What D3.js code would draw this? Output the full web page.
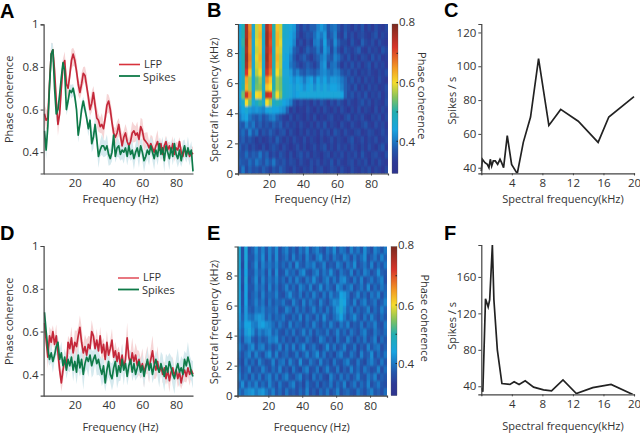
<!DOCTYPE html>
<html><head><meta charset="utf-8">
<script src="https://cdnjs.cloudflare.com/ajax/libs/d3/7.8.5/d3.min.js"></script>
<style>
html,body{margin:0;padding:0;background:#fff}
svg{display:block}
text{font-family:"Open Sans",sans-serif;fill:#333}
.letter{font-family:"Liberation Sans",sans-serif;font-weight:700;font-size:20px;fill:#000}
</style></head><body><svg id="c" width="640" height="433"></svg>
<script>
// Values are in hundredths of phase coherence; one value per Hz from 2 to 90 Hz
const lineFreqs = d3.range(2, 91);
const lfpA = [58,55,56,72,86,88,78,64,53,58,70,81,83,72,70,76,83,86,83,78,72,68,72,77,76,71,66,60,63,68,62,56,55,52,53,51,56,62,64,60,54,49,47,49,53,48,43,47,49,45,43,45,49,50,48,49,46,52,50,46,45,44,42,44,42,40,43,45,41,44,39,43,45,41,43,40,44,39,42,41,45,40,38,42,39,41,38,40,39];
const spikesA = [50,41,52,71,86,88,70,58,60,67,75,82,78,60,64,69,68,70,66,60,48,53,60,64,60,56,51,55,44,47,53,46,38,41,43,43,41,43,39,37,40,48,38,42,43,39,41,40,42,38,43,39,41,37,40,42,38,43,40,36,38,41,39,43,40,37,41,38,44,39,42,36,43,40,37,42,38,44,39,37,41,36,40,43,38,42,39,41,31];
const lfpD = [64,56,48,58,55,60,54,58,50,42,36,42,47,43,55,52,57,50,55,53,58,62,55,50,53,49,54,52,60,58,52,56,51,58,50,54,47,55,49,52,56,48,51,46,50,44,49,43,47,57,48,45,50,46,49,44,47,42,45,41,44,46,43,47,51,45,42,46,41,44,40,43,38,42,37,41,43,39,42,38,41,36,40,42,39,43,40,42,40];
const spikesD = [69,60,52,47,50,46,49,53,55,47,50,44,48,42,47,44,48,42,46,41,49,43,47,40,45,48,46,49,44,47,49,45,47,43,40,44,36,42,46,40,38,43,46,39,44,41,47,42,45,39,44,47,41,45,40,43,46,41,44,39,43,47,42,45,40,44,47,43,41,45,42,39,44,41,46,43,40,38,42,45,41,43,40,47,44,48,45,41,39];
// Shaded error half-width per 10 Hz bin, in hundredths
const semLfpA = [3,3,3,3,3,3,3,2,2];
const semSpikesA = [3,2,2,3,3,3,3,3,3];
const semLfpD = [3,3,4,3,3,4,4,3,3];
const semSpikesD = [3,3,4,4,4,3,3,4,4];

const specTicksC = [4,8,12,16,20];
const freqC = [0,.14,.48,.79,1,1.18,1.36,1.57,1.83,2.14,2.45,2.66,2.92,3.4,3.97,4.71,5.5,6.45,7.5,8.85,10.4,12.7,15.3,16.7,20];
const ratesC = [38,45,43,42,40,45,41,44,44,42,45,43,40,59,42,36.5,55,70,104.5,65,74.5,67.5,55,70,82];
const freqF = [.1,.2,.55,.9,1.1,1.45,1.65,2.1,2.7,3.75,4.3,4.95,5.75,6.85,8.15,9.2,10.7,12.45,14.6,17,19.85];
const ratesF = [38,34,136,127,135,195,135,80,43,42,45,42,46,39,36,35,47,32,38.5,42,31];

// Heat maps, top row (9.5-10 kHz) first; columns 2 Hz wide; hundredths of coherence
const heatB = [
[44,50,76,66,46,58,62,47,76,70,50,62,58,47,46,45,43,37,34,37,35,38,38,41,43,41,37,39,40,37,34,37,35,33,36,34,37,33,35,33,36,34,33,35],
[45,50,76,67,46,58,63,47,77,71,50,63,58,47,46,44,42,36,33,35,37,36,39,42,40,43,36,38,41,35,33,38,34,36,33,35,36,34,33,35,37,33,35,34],
[44,51,77,66,46,59,62,47,77,70,50,63,59,46,45,44,41,34,36,33,36,34,40,41,38,44,38,36,42,38,35,35,33,37,34,33,38,35,34,36,33,36,34,33],
[44,50,76,66,46,58,62,46,76,71,49,62,58,45,45,43,38,36,33,35,38,36,37,40,37,43,40,35,40,36,33,37,35,34,36,38,34,33,36,34,35,33,37,35],
[45,50,77,67,46,59,63,47,77,70,50,63,57,45,44,41,37,34,36,38,35,33,36,38,40,42,38,37,41,39,36,34,37,33,35,33,36,35,33,37,34,36,33,34],
[44,50,76,66,46,58,62,46,76,70,49,62,57,44,44,40,38,36,34,36,38,36,34,37,41,43,36,39,40,37,33,36,34,37,34,36,33,35,37,33,36,34,35,33],
[44,49,72,62,46,57,60,47,73,68,50,60,56,45,45,43,39,41,38,37,39,38,37,39,41,42,40,39,41,40,37,35,37,34,36,33,35,34,36,34,33,35,34,36],
[44,48,64,56,46,53,56,48,66,62,49,56,54,46,46,44,42,44,43,40,43,44,40,44,42,44,41,43,43,42,40,38,35,37,34,36,33,36,34,35,33,36,34,33],
[44,50,63,56,46,54,55,47,62,60,50,56,54,47,46,45,43,45,44,42,44,45,42,45,43,45,43,44,44,43,41,38,36,34,37,33,35,33,36,34,35,33,34,36],
[44,54,73,66,48,60,61,48,74,72,52,60,55,47,46,45,43,44,45,45,45,45,45,45,45,45,45,45,45,45,44,38,35,37,34,36,34,37,33,35,34,36,33,35],
[43,47,60,54,45,48,51,46,60,56,47,49,47,44,43,41,36,34,36,34,35,33,36,34,37,35,33,36,34,37,35,33,36,34,33,35,37,34,36,33,35,34,33,36],
[42,44,46,43,42,43,42,41,44,45,44,44,43,42,38,33,35,32,34,33,36,34,32,35,33,36,34,33,35,33,36,34,32,35,33,36,33,35,34,32,36,33,35,34],
[40,43,44,40,38,37,39,36,38,40,41,38,36,34,33,36,33,35,34,32,35,33,36,32,34,33,35,36,33,34,32,35,37,33,35,34,36,33,32,35,34,36,33,35],
[38,37,41,38,40,36,38,35,37,35,38,36,38,34,36,34,35,33,36,34,33,35,33,36,34,37,33,35,34,32,36,34,33,36,34,33,35,37,34,33,36,34,35,33],
[37,39,36,41,37,39,34,37,35,38,36,34,36,37,33,36,34,32,35,33,36,34,35,33,36,34,36,33,37,35,33,36,34,33,35,36,33,34,36,35,33,34,36,34],
[36,38,35,37,35,33,35,33,34,36,34,38,35,33,35,33,36,34,33,36,33,35,34,32,35,33,34,36,33,35,34,32,35,37,33,34,36,33,35,34,36,33,34,35],
[38,35,37,34,36,34,33,36,33,35,37,35,33,36,34,32,34,36,33,35,32,34,36,33,35,37,33,35,33,36,34,35,33,36,34,32,35,33,36,34,32,35,37,33],
[37,36,39,36,38,37,40,36,38,34,36,34,37,35,33,36,33,35,37,34,36,33,35,34,32,35,36,33,35,34,36,33,35,34,36,33,37,34,33,35,36,34,33,36],
[38,37,36,39,37,40,38,36,39,37,40,36,35,37,34,36,35,33,36,34,33,36,34,36,33,35,34,37,33,36,34,33,35,36,33,35,34,36,32,35,33,36,34,33],
[36,40,35,38,36,37,35,38,36,34,37,35,38,36,34,33,36,34,32,35,34,36,33,35,36,33,34,36,35,33,36,34,33,36,34,33,35,34,36,33,35,34,32,35]
];
const heatE = [
[46,36,45,36,38,42,38,41,37,41,38,42,36,39,41,37,39,36,40,38,42,37,39,41,38,36,40,38,42,37,40,39,36,41,38,40,37,42,38,36,41,39,37,40],
[46,36,45,37,37,41,38,42,36,41,37,42,36,38,40,36,41,37,39,36,41,38,36,40,42,37,39,36,40,38,37,41,39,36,40,37,39,42,36,38,40,37,41,38],
[46,35,45,36,38,42,37,41,38,40,38,41,37,39,37,40,36,42,38,37,40,39,41,37,38,41,36,38,37,41,39,36,40,38,42,36,38,40,37,41,36,39,37,40],
[45,36,44,37,37,41,38,40,36,41,36,42,36,37,41,38,39,36,40,42,37,36,39,41,37,40,38,42,38,36,40,38,37,41,36,39,37,41,39,36,38,42,38,37],
[45,36,45,36,38,42,37,41,37,40,38,41,37,39,36,40,37,41,38,36,40,38,42,38,36,39,41,37,40,37,41,42,38,36,40,37,41,36,38,40,37,39,41,36],
[45,35,44,37,37,41,38,40,36,41,37,40,36,38,41,37,39,36,41,39,37,41,36,38,42,37,40,38,36,42,40,37,39,41,36,38,40,37,42,36,39,37,40,38],
[45,36,44,36,38,40,37,41,37,39,38,41,37,36,39,42,38,37,40,36,39,37,41,38,36,40,37,41,38,39,44,43,40,36,38,41,37,39,36,40,38,41,36,39],
[45,36,44,37,38,41,38,40,36,40,37,39,38,40,37,36,41,38,36,41,37,40,38,36,41,38,36,39,42,41,45,44,39,37,41,36,39,41,37,38,40,36,38,41],
[44,37,43,38,37,40,39,41,38,39,38,40,36,37,41,39,36,40,37,39,36,38,41,37,39,36,40,37,40,43,46,42,38,40,36,39,37,38,41,36,39,37,41,38],
[43,38,43,40,39,42,43,42,38,40,37,39,38,40,37,36,39,37,41,36,40,38,36,40,37,42,38,36,39,41,44,40,37,39,42,38,36,40,37,41,38,36,39,37],
[42,39,44,44,41,40,43,44,42,41,39,37,40,38,36,41,37,39,38,36,39,37,41,38,36,39,37,41,38,36,40,38,41,36,38,37,40,36,39,38,41,37,36,40],
[41,38,43,45,42,38,41,39,41,42,38,40,37,36,39,37,40,36,38,41,37,40,36,39,38,37,40,36,38,41,37,39,36,40,38,36,39,41,37,36,40,38,37,39],
[40,36,41,42,38,36,39,37,38,41,40,42,37,39,36,38,35,39,37,36,40,38,35,37,41,39,36,38,35,40,37,36,41,38,35,39,37,40,36,38,41,35,39,37],
[41,38,37,40,42,37,40,41,37,39,36,38,41,36,40,37,41,36,39,42,36,38,40,37,35,38,42,37,40,36,38,41,36,37,40,35,38,36,41,37,39,40,36,38],
[39,36,39,41,37,41,38,36,40,42,37,41,36,38,39,36,37,40,36,38,41,37,39,42,37,40,36,38,35,39,41,37,36,40,38,35,41,37,38,42,36,39,37,40],
[38,35,40,37,39,36,41,38,36,37,41,36,39,40,36,41,38,36,42,37,36,40,38,36,41,37,38,35,40,37,36,39,41,37,36,40,37,35,39,41,38,36,40,37],
[40,36,38,41,36,38,37,41,38,36,39,37,41,36,38,35,40,37,35,39,41,36,37,40,35,38,41,37,36,40,35,38,36,41,37,39,36,40,38,36,37,41,36,39],
[41,37,39,36,40,37,40,36,39,41,37,40,36,39,41,37,36,39,41,36,38,35,40,37,39,36,35,41,38,36,40,37,39,36,38,41,37,36,40,38,41,36,38,37],
[38,42,37,40,38,41,37,39,37,41,38,36,40,37,36,39,41,36,38,35,40,37,36,39,35,38,37,40,36,39,37,41,35,38,40,36,39,37,41,36,38,40,37,36],
[40,38,41,42,43,40,42,43,40,38,41,37,39,36,40,37,38,36,39,37,41,36,38,35,39,37,40,36,38,41,36,38,39,37,36,40,38,36,39,41,37,38,36,39]
];
const coherenceStops = [.30,.33,.37,.40,.44,.50,.55,.60,.65,.72,.80];
const coherenceColors = ["#2e3590","#2d3a96","#2356ab","#1b78c4","#19a4e0","#22aeb0","#86c35c","#f5dc2c","#f39a24","#d8352a","#7a2a20"];

const red = "#c4283a", green = "#0e7a48";
const svg = d3.select("#c");
const TICK = 11;

function label(t, x, y, o = {}) {
  const n = svg.append("text").text(t).attr("font-size", o.size || TICK)
    .attr("text-anchor", o.anchor || "middle").attr("dominant-baseline", "central");
  n.attr("transform", `translate(${x},${y})` + (o.rot ? ` rotate(${o.rot})` : ""));
  return n;
}
function axes(xS, yS, xTicks, yTicks, opts) {
  const fy = opts.yFmt || (d => d);
  const gy = svg.append("g").attr("transform", `translate(${xS.range()[0]},0)`)
    .call(d3.axisLeft(yS).tickValues(yTicks).tickFormat(fy).tickSizeOuter(0).tickSize(opts.ytick == null ? 3 : opts.ytick).tickPadding(2));
  const gx = svg.append("g").attr("transform", `translate(0,${yS.range()[0]})`)
    .call(d3.axisBottom(xS).tickValues(xTicks).tickSizeOuter(0).tickSize(opts.xtick || 0).tickPadding(opts.xpad || 5));
  for (const g of [gy, gx]) {
    g.selectAll("path").attr("stroke", "#444").attr("stroke-width", 1.2);
    g.selectAll("line").attr("stroke", "#444");
    g.selectAll("text").attr("font-size", TICK + .5).style("fill", "#333");
    g.attr("font-family", null);
  }
}
function lines(xS, yS, series) {
  const clipId = "cl" + Math.round(yS.range()[1]);
  svg.append("clipPath").attr("id", clipId).append("rect")
    .attr("x", xS.range()[0]).attr("y", yS.range()[1])
    .attr("width", xS.range()[1] - xS.range()[0] + 1).attr("height", yS.range()[0] - yS.range()[1]);
  const g = svg.append("g").attr("clip-path", `url(#${clipId})`);
  const bin = hz => Math.min(8, Math.floor(hz / 10));
  series.forEach(s => {
    g.append("path").attr("fill", s.band).attr("d", d3.area()
      .x((d, i) => xS(lineFreqs[i]))
      .y0((d, i) => yS((d - s.sem[bin(lineFreqs[i])] * (1 + (i % 3) * .4)) / 100))
      .y1((d, i) => yS((d + s.sem[bin(lineFreqs[i])] * (1 + ((i + 1) % 3) * .4)) / 100))(s.v));
  });
  series.forEach(s => {
    g.append("path").attr("fill", "none").attr("stroke", s.c).attr("stroke-width", 1.7).attr("stroke-linejoin", "round")
      .attr("d", d3.line().x((d, i) => xS(lineFreqs[i])).y(d => yS(d / 100))(s.v));
  });
}
function coherencePanel(top, bottom, spikesV, lfpV, semL, semS, leg) {
  const x = d3.scaleLinear().domain([1.5, 90]).range([43.6, 193]);
  const y = d3.scaleLinear().domain([.3, 1]).range([bottom, top]);
  lines(x, y, [
    {v: lfpV, sem: semL, c: red, band: "#f6d5d6"},
    {v: spikesV, sem: semS, c: green, band: "#d5e9ee"}
  ]);
  axes(x, y, [20,40,60,80], [.4,.6,.8,1], {yFmt: d => d === 1 ? "1" : d3.format(".1f")(d)});
  label("Frequency (Hz)", 120.5, xLabelY(bottom));
  label("Phase coherence", 8, (top + bottom) / 2 + .5, {rot: -90});
  svg.append("line").attr("x1", leg.x).attr("x2", leg.x + 21).attr("y1", leg.y).attr("y2", leg.y).attr("stroke", leg.red).attr("stroke-width", 1.6);
  svg.append("line").attr("x1", leg.x).attr("x2", leg.x + 21).attr("y1", leg.y + 11.5).attr("y2", leg.y + 11.5).attr("stroke", green).attr("stroke-width", 1.8);
  label("LFP", leg.x + 25, leg.y - 1.5, {anchor: "start"});
  label("Spikes", leg.x + 24, leg.y + 11.5, {anchor: "start"});
}
function xLabelY(bottom) { return bottom + (bottom > 300 ? 31 : 25); }

const colour = d3.scaleLinear().domain(coherenceStops).range(coherenceColors).clamp(true);
let blurDone = false;
function heatPanel(matrix, top, bottom, left, right, barX, lab) {
  const xB = d3.scaleBand().domain(d3.range(matrix[0].length)).range([left, right]);
  const yB = d3.scaleBand().domain(d3.range(matrix.length)).range([top, bottom]);
  if (!blurDone) {
    const f = svg.append("filter").attr("id", "soft").attr("x", "-3%").attr("y", "-3%").attr("width", "106%").attr("height", "106%");
    f.append("feGaussianBlur").attr("stdDeviation", "0.7 1.2");
    blurDone = true;
  }
  const id = "hc" + top;
  svg.append("clipPath").attr("id", id).append("rect").attr("x", left).attr("y", top).attr("width", right - left).attr("height", bottom - top);
  const outer = svg.append("g").attr("clip-path", `url(#${id})`);
  const drawCells = g => matrix.forEach((row, r) => g.selectAll(null).data(row).join("rect")
      .attr("x", (d, c) => xB(c)).attr("y", yB(r))
      .attr("width", xB.bandwidth() + .4).attr("height", yB.bandwidth() + .4)
      .attr("fill", d => colour(d / 100)));
  drawCells(outer.append("g"));
  drawCells(outer.append("g").attr("filter", "url(#soft)"));

  const x = d3.scaleLinear().domain([1.8, 90]).range([left, right]);
  const y = d3.scaleLinear().domain([0, 9.93]).range([bottom, top]);
  axes(x, y, [20,40,60,80], [0,2,4,6,8], {ytick: 3, xtick: 2, xpad: 4});
  label("Frequency (Hz)", (left + right) / 2 - 0.5, xLabelY(bottom));
  label("Spectral frequency (kHz)", 213, (top + bottom) / 2 + 1, {rot: -90});

  const gradId = "gr" + top;
  const gr = svg.append("linearGradient").attr("id", gradId).attr("x1", 0).attr("x2", 0).attr("y1", 1).attr("y2", 0);
  const bar = d3.scaleLinear().domain([.29, .8]).range([bottom, top]);
  coherenceStops.forEach(v => gr.append("stop").attr("offset", (v - .29) / .51).attr("stop-color", colour(v)));
  svg.append("rect").attr("x", barX).attr("y", top).attr("width", 6).attr("height", bottom - top).attr("fill", `url(#${gradId})`).attr("stroke", "#555").attr("stroke-width", .3);
  svg.selectAll(null).data([.4,.5,.6,.7]).enter().append("line")
    .attr("x1", barX + 4.5).attr("x2", barX + 6).attr("y1", d => bar(d)).attr("y2", d => bar(d)).attr("stroke", "#222");
  [.8,.6,.4].forEach(v => label(d3.format(".1f")(v), barX + 7, bar(v) + (v === .8 ? -2.5 : 0), {anchor: "start", size: 11.5}));
  label("Phase coherence", lab, (top + bottom) / 2 - 3, {rot: 90});
}
function tuningPanel(top, bottom, fr, rates, yDom, yTicks, labelY) {
  const x = d3.scaleLinear().domain([0, 20]).range([481.3, 634]);
  const y = d3.scaleLinear().domain(yDom).range([bottom, top]);
  const id = "tc" + top;
  svg.append("clipPath").attr("id", id).append("rect").attr("x", 478).attr("y", top).attr("width", 160).attr("height", bottom - top);
  svg.append("g").attr("clip-path", `url(#${id})`).append("path").attr("fill", "none").attr("stroke", "#222").attr("stroke-width", 1.7)
    .attr("stroke-linejoin", "miter").attr("d", d3.line().x((d, i) => x(fr[i])).y(d => y(d))(rates));
  axes(x, y, specTicksC, yTicks, {ytick: 3, xtick: 2, xpad: 4});
  label("Spectral frequency(kHz)", 563, xLabelY(bottom));
  label("Spikes / s", 451.5, labelY, {rot: -90});
}

coherencePanel(24.3, 173.5, spikesA, lfpA, semLfpA, semSpikesA, {x: 119, y: 64.5, red: "#d8323c"});
coherencePanel(246, 395.7, spikesD, lfpD, semLfpD, semSpikesD, {x: 118, y: 278, red: "#e25560"});
heatPanel(heatB, 24, 173.5, 238, 388, 392, 422);
heatPanel(heatE, 246.5, 395.7, 237.5, 387, 391, 425);
tuningPanel(24, 173.3, freqC, ratesC, [36.7, 125], [40,60,80,100,120], 100.7);
tuningPanel(245, 394.3, freqF, ratesF, [31.2, 195], [40,80,120,160], 326);

[["A",0,18],["B",207,17],["C",444,17],["D",0,240],["E",207,240],["F",444,240]].forEach(([t,x,y]) =>
  svg.append("text").attr("class", "letter").attr("x", x).attr("y", y).text(t));
</script></body></html>
